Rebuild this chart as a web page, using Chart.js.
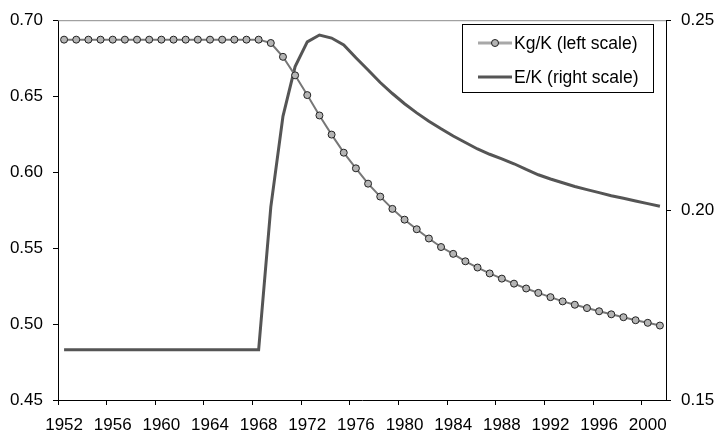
<!DOCTYPE html>
<html>
<head>
<meta charset="utf-8">
<script src="https://cdn.jsdelivr.net/npm/chart.js@4"></script>
<style>
  html, body { margin: 0; padding: 0; background: #fff; }
  #wrap { width: 719px; height: 440px; }
</style>
</head>
<body>
<div id="wrap"><canvas id="c" width="719" height="440"></canvas></div>
<script>
const years = [1952,1953,1954,1955,1956,1957,1958,1959,1960,1961,1962,1963,1964,1965,1966,1967,1968,
  1969,1970,1971,1972,1973,1974,1975,1976,1977,1978,1979,1980,1981,1982,1983,1984,1985,1986,1987,1988,
  1989,1990,1991,1992,1993,1994,1995,1996,1997,1998,1999,2000,2001];

const kgK = [0.6872,0.6872,0.6872,0.6872,0.6872,0.6872,0.6872,0.6872,0.6872,0.6872,0.6872,0.6872,0.6872,0.6872,0.6872,0.6872,0.6872,
  0.6850,0.6759,0.6637,0.6507,0.6373,0.6247,0.6128,0.6025,0.5924,0.5839,0.5758,0.5687,0.5624,0.5563,0.5507,0.5462,0.5413,0.5372,0.5333,0.5299,
  0.5266,0.5234,0.5205,0.5177,0.5149,0.5127,0.5105,0.5084,0.5064,0.5045,0.5025,0.5008,0.4990];

const eK = [0.1632,0.1632,0.1632,0.1632,0.1632,0.1632,0.1632,0.1632,0.1632,0.1632,0.1632,0.1632,0.1632,0.1632,0.1632,0.1632,0.1632,
  0.2008,0.2247,0.2378,0.2443,0.2461,0.2453,0.2435,0.2401,0.2369,0.2336,0.2307,0.2280,0.2256,0.2234,0.2214,0.2195,0.2178,0.2161,0.2147,0.2135,
  0.2122,0.2107,0.2093,0.2082,0.2072,0.2062,0.2054,0.2046,0.2038,0.2031,0.2024,0.2017,0.2010];

const seriesNames = ['Kg/K (left scale)', 'E/K (right scale)'];
const leftTicks = [0.45, 0.50, 0.55, 0.60, 0.65, 0.70];
const rightTicks = [0.15, 0.20, 0.25];

const FONT = "'Liberation Sans', Arial, sans-serif";

const frame = {
  id: 'frame',
  afterDatasetsDraw(chart) {
    const {ctx, chartArea: a} = chart;
    ctx.save();
    ctx.strokeStyle = '#8c8c8c';
    ctx.lineWidth = 1;
    ctx.beginPath();
    ctx.moveTo(a.left, a.top + 0.5);
    ctx.lineTo(a.right, a.top + 0.5);
    ctx.stroke();
    ctx.restore();
  }
};

const boxLegend = {
  id: 'boxLegend',
  afterDraw(chart) {
    const {ctx} = chart;
    const x0 = 462, y0 = 24, w = 191, h = 68;
    ctx.save();
    ctx.fillStyle = '#fff';
    ctx.fillRect(x0, y0, w, h);
    ctx.strokeStyle = '#000';
    ctx.lineWidth = 1;
    ctx.strokeRect(x0 + 0.5, y0 + 0.5, w, h);
    const rows = [43, 77];
    chart.data.datasets.forEach((ds, i) => {
      const y = rows[i];
      ctx.strokeStyle = ds.legendLine || ds.borderColor;
      ctx.lineWidth = ds.legendWidth || ds.borderWidth;
      ctx.beginPath();
      ctx.moveTo(478, y);
      ctx.lineTo(512, y);
      ctx.stroke();
      if (ds.pointRadius > 0) {
        ctx.beginPath();
        ctx.arc(495, y, ds.pointRadius, 0, Math.PI * 2);
        ctx.fillStyle = ds.pointBackgroundColor;
        ctx.fill();
        ctx.strokeStyle = ds.pointBorderColor;
        ctx.lineWidth = 1;
        ctx.stroke();
      }
      ctx.fillStyle = '#000';
      ctx.font = '17.5px ' + FONT;
      ctx.textBaseline = 'middle';
      ctx.textAlign = 'left';
      ctx.fillText(ds.label, 514, y + 1);
    });
    ctx.restore();
  }
};

new Chart(document.getElementById('c'), {
  type: 'line',
  data: {
    labels: years.map(String),
    datasets: [
      {
        label: seriesNames[0],
        data: kgK,
        yAxisID: 'y',
        borderColor: '#777',
        borderWidth: 2,
        legendLine: '#a8a8a8',
        legendWidth: 3,
        pointRadius: 3.5,
        pointBackgroundColor: '#b4b4b4',
        pointBorderColor: '#222',
        pointBorderWidth: 1,
        tension: 0,
        order: 1
      },
      {
        label: seriesNames[1],
        data: eK,
        yAxisID: 'y1',
        borderColor: '#555',
        borderWidth: 3,
        pointRadius: 0,
        tension: 0,
        order: 2
      }
    ]
  },
  options: {
    responsive: false,
    animation: false,
    devicePixelRatio: 1,
    layout: { padding: { top: 16, left: 0, right: 0, bottom: 0 } },
    plugins: {
      legend: { display: false },
      tooltip: { enabled: false }
    },
    scales: {
      x: {
        type: 'category',
        offset: true,
        grid: {
          offset: true, drawOnChartArea: false, drawTicks: true, tickLength: 5,
          color: c => (c.index % 4 === 0 ? '#000' : 'rgba(0,0,0,0)')
        },
        border: { color: '#000', width: 1 },
        ticks: {
          autoSkip: false,
          maxRotation: 0,
          minRotation: 0,
          padding: 10,
          color: '#000',
          font: { family: FONT, size: 17 },
          callback: function(v, i) { return i % 4 === 0 ? years[i].toString() : ''; }
        },
        afterFit: s => { s.height = 40; }
      },
      y: {
        position: 'left',
        min: 0.45,
        max: 0.70,
        afterBuildTicks: s => { s.ticks = leftTicks.map(v => ({value: v})); },
        grid: { drawOnChartArea: false, drawTicks: true, tickLength: 5, color: '#000' },
        border: { color: '#000', width: 1 },
        ticks: {
          padding: 10,
          color: '#000',
          font: { family: FONT, size: 17 },
          callback: v => Number(v).toFixed(2)
        },
        afterFit: s => { s.width = 58; }
      },
      y1: {
        position: 'right',
        min: 0.15,
        max: 0.25,
        afterBuildTicks: s => { s.ticks = rightTicks.map(v => ({value: v})); },
        grid: { drawOnChartArea: false, drawTicks: true, tickLength: 5, color: '#000' },
        border: { color: '#000', width: 1 },
        ticks: {
          padding: 10,
          color: '#000',
          font: { family: FONT, size: 17 },
          callback: v => Number(v).toFixed(2)
        },
        afterFit: s => { s.width = 53; }
      }
    }
  },
  plugins: [frame, boxLegend]
});
</script>
</body>
</html>
